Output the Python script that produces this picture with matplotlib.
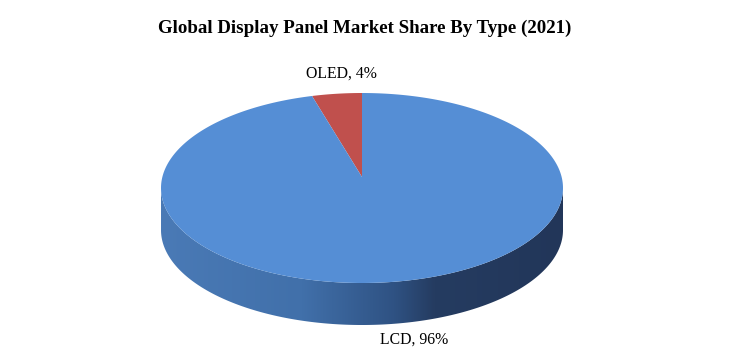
import numpy as np
import matplotlib.pyplot as plt
from matplotlib.patches import Polygon
from matplotlib.colors import LinearSegmentedColormap

# chart data
labels = ["OLED", "LCD"]
shares = [4, 96]
colors = ["#c0504d", "#558ed5"]
title = "Global Display Panel Market Share By Type (2021)"

plt.rcParams['font.family'] = ['Liberation Serif', 'DejaVu Serif']

fig = plt.figure(figsize=(7.49, 3.57), dpi=100)
ax = fig.add_axes([0, 0, 1, 1])

# pie geometry in pixel units
cx, cy = 362, 188
rx, ry = 201, 95
apex_y = 177
depth = 42

def arc(a0, a1, n=300):
    t = np.radians(np.linspace(a0, a1, n))
    return cx + rx * np.cos(t), cy - ry * np.sin(t)

side_cmap = LinearSegmentedColormap.from_list(
    "side", [(0, "#4a7ab6"), (0.35, "#4170aa"), (0.58, "#2f5283"),
             (0.68, "#253c61"), (1, "#223659")])
grad = np.linspace(0, 1, 256)[None, :]

fracs = np.array(shares) / sum(shares)
start = 90
label_pos = {"OLED": (341, 74), "LCD": (414, 340)}
for lab, f, col in zip(labels, fracs, colors):
    a0, a1 = start, start + f * 360
    # visible front side of the slice
    lo, hi = max(a0, 180), min(a1, 360)
    if hi > lo:
        xs, ys = arc(lo, hi)
        pts = np.column_stack([np.r_[xs, xs[::-1]], np.r_[ys, ys[::-1] + depth]])
        side = Polygon(pts, closed=True, facecolor='none', edgecolor='none')
        ax.add_patch(side)
        im = ax.imshow(grad, cmap=side_cmap, aspect='auto', zorder=1,
                       extent=(cx - rx, cx + rx, cy + ry + depth, cy))
        im.set_clip_path(side)
    # top face
    xs, ys = arc(a0, a1)
    pts = np.column_stack([np.r_[cx, xs], np.r_[apex_y, ys]])
    ax.add_patch(Polygon(pts, closed=True, facecolor=col, edgecolor='none', zorder=2))
    lx, ly = label_pos[lab]
    ax.text(lx, ly, f"{lab}, {shares[labels.index(lab)]}%", fontsize=11.3,
            ha='center', va='center', color='black')
    start = a1

ax.text(365, 28, title, fontsize=13.6, fontweight='bold', ha='center', va='center')

ax.set_xlim(0, 749)
ax.set_ylim(357, 0)
ax.axis('off')

fig.savefig("out.png", dpi=100)
